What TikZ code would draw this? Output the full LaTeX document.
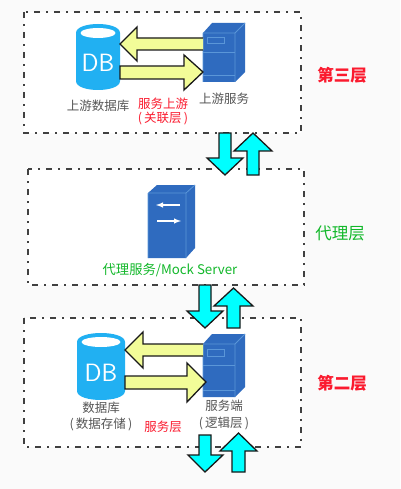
\documentclass[tikz,border=0pt]{standalone}
\usepackage{fontspec}
\setmainfont{Noto Sans CJK SC}
\usetikzlibrary{calc}
\definecolor{pagebg}{HTML}{FAFAFA}
\definecolor{dbblue}{HTML}{21B0F2}
\definecolor{srvblue}{HTML}{2F6BBF}
\definecolor{srvline}{HTML}{5A96D8}
\definecolor{yel}{HTML}{F2FC98}
\definecolor{cyn}{HTML}{00FFFF}
\definecolor{grn}{HTML}{12B82A}
\definecolor{redt}{HTML}{FB1A2E}
\definecolor{gryt}{HTML}{555555}
\tikzset{
  x=1pt,y=-1pt,
  layerbox/.style={draw=black!75,fill=white,line width=1.3pt,dash pattern=on 6pt off 6pt on 2pt off 6pt},
  yarrow/.style={draw=black!90,fill=yel,line width=1.3pt,line join=miter},
  carrow/.style={draw=black!90,fill=cyn,line width=1.3pt,line join=miter},
  lbl/.style={inner sep=0pt,font=\fontsize{12.5}{14}\selectfont,text=gryt},
  redlbl/.style={lbl,text=redt},
  layerred/.style={inner sep=0pt,font=\fontsize{16.5}{18}\selectfont\bfseries,text=redt},
  srvdetail/.style={draw=srvline,line width=.8pt},
}
% DB cylinder: centre x, top y, bottom y, half width, name
\newcommand{\dbcyl}[5]{%
  \fill[dbblue] (#1-#4,#2+9) -- (#1-#4,#3-9) .. controls (#1-#4,#3+3) and (#1+#4,#3+3) .. (#1+#4,#3-9)
     -- (#1+#4,#2+9) .. controls (#1+#4,#2-3) and (#1-#4,#2-3) .. (#1-#4,#2+9) -- cycle;
  \fill[white] (#1,#2+9) ellipse [x radius=#4-4.5,y radius=5];
  \node[inner sep=0pt,text=white,font=\fontsize{25}{27}\selectfont\sffamily] (#5) at (#1,#3-27) {DB};
}
% server box: front left, front right, top y, bottom y, side right, back top y
\newcommand{\srvbox}[6]{%
  \fill[srvblue] (#1,#3) -- (#1+9,#6) -- (#5,#6) -- (#5,#4-10) -- (#2,#4) -- (#1,#4) -- cycle;
  \draw[srvdetail] (#1,#3) -- (#2,#3) -- (#2,#4) (#2,#3) -- (#5,#6) (#1,#3) -- (#1,#4);
}
\newcommand{\varrowdown}[6]{% xl xr ytop yhead headl headr tip
  \draw[carrow] (#1,#3) -- (#2,#3) -- (#2,#4) -- (#6,#4) -- ({(#1+#2)/2},#4+17) -- (#5,#4) -- (#1,#4) -- cycle;
}
\newcommand{\varrowup}[6]{%
  \draw[carrow] (#1,#3) -- (#2,#3) -- (#2,#4) -- (#6,#4) -- ({(#1+#2)/2},#4-18) -- (#5,#4) -- (#1,#4) -- cycle;
}
\begin{document}
\begin{tikzpicture}
\useasboundingbox (0,0) rectangle (400,489);
\fill[pagebg] (0,0) rectangle (400,489);

% layer boxes
\draw[layerbox] (24,12) rectangle (301,133);
\draw[layerbox] (28,169) rectangle (304,285);
\draw[layerbox] (24,318) rectangle (301,447);

% top layer
\dbcyl{98}{24}{90}{22}{dbtop}
\srvbox{203}{235}{33}{82}{245}{23}
\draw[srvdetail] (207,37) rectangle (224,43) (203,52) -- (235,52) (203,75) -- (235,75);
\draw[yarrow] (203,38) -- (137,38) -- (137,27) -- (120,44) -- (137,61) -- (137,50) -- (203,50);
\draw[yarrow] (120,66) -- (184,66) -- (184,55) -- (203,72) -- (184,90) -- (184,79) -- (120,79) -- cycle;
\node[lbl] (t1) at (98,106) {上游数据库};
\node[redlbl] (t2) at (163,104) {服务上游};
\node[redlbl] (t3) at (163,119) {(\,关联层\,)};
\node[lbl] (t4) at (224,99) {上游服务};
\node[layerred] (t5) at (342,75) {第三层};

% arrows top - middle
\varrowdown{219}{231}{133}{158}{207}{243}
\varrowup{247}{259}{175}{151}{234}{272}

% middle layer
\srvbox{148}{186}{193}{258}{195}{185}
\draw[white,line width=1.4pt,-latex] (180,205) -- (156,205);
\draw[white,line width=1.4pt,-latex] (157,221) -- (181,221);
\node[lbl,text=grn,font=\fontsize{13.3}{15}\selectfont] (m1) at (170,270) {代理服务/Mock Server};
\node[inner sep=0pt,font=\fontsize{16.5}{18}\selectfont,text=grn] (m2) at (340,233) {代理层};

% arrows middle - bottom
\varrowdown{199}{211}{285}{311}{187}{223}
\varrowup{227}{240}{328}{306}{214}{253}

% bottom layer
\dbcyl{101}{333}{400}{24}{dbbot}
\srvbox{203}{235}{344}{397}{245}{334}
\draw[srvdetail] (207,349) rectangle (224,356) (203,365) -- (235,365) (203,390) -- (235,390);
\draw[yarrow] (203,344) -- (143,344) -- (143,332) -- (125,350) -- (143,368) -- (143,356) -- (203,356);
\draw[yarrow] (125,376) -- (187,376) -- (187,363) -- (206,382) -- (187,402) -- (187,389) -- (125,389) -- cycle;
\node[lbl] (b1) at (101,408) {数据库};
\node[lbl] (b2) at (101,424) {(\,数据存储\,)};
\node[redlbl] (b3) at (163,427) {服务层};
\node[lbl] (b4) at (224,406) {服务端};
\node[lbl] (b5) at (224,423) {(\,逻辑层\,)};
\node[layerred] (b6) at (342,383) {第二层};

% arrows below
\varrowdown{199}{211}{435}{455}{188}{223}
\varrowup{232}{245}{472}{451}{220}{257}
\end{tikzpicture}
\end{document}
